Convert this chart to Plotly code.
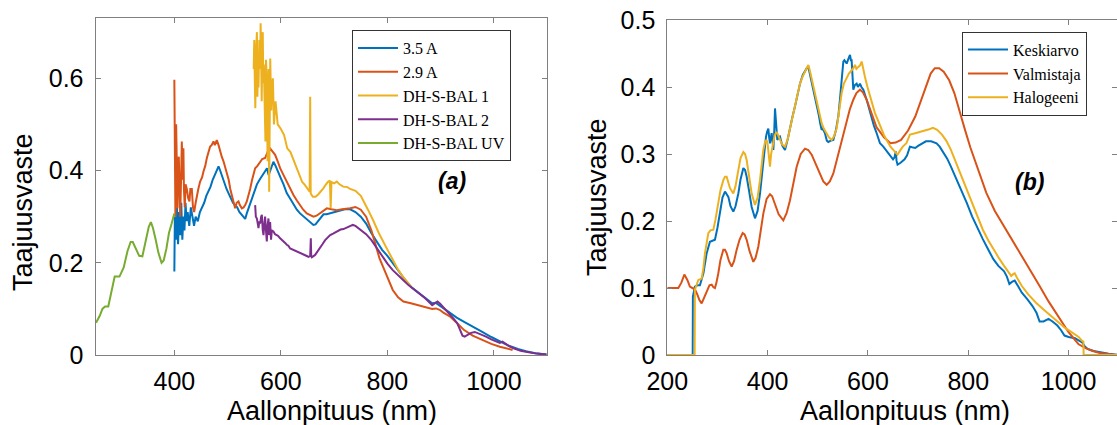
import plotly.graph_objects as go

# ---------------- Panel (a) data ----------------
a35_x = [400, 401, 403, 405, 407, 409, 411, 413, 415, 417, 419, 421, 423, 425, 428, 431, 434, 437, 440, 444, 448,
         452, 456, 460, 464, 468, 472, 476, 480, 483, 486, 490, 494, 498, 502, 506, 510, 514, 518, 522, 526, 530,
         533, 536, 540, 545, 550, 555, 560, 565, 570, 574, 577, 580, 583, 586, 590, 595, 600, 605, 611, 617, 624,
         630, 636, 643, 649, 655, 661, 665, 668, 672, 676, 680, 686, 693, 700, 710, 720, 730, 740, 750, 760, 770,
         780, 790, 800, 810, 820, 830, 844, 860, 877, 884, 891, 897, 905, 918, 930, 944, 960, 978, 995, 1011, 1028,
         1045, 1060, 1078, 1099]
a35_y = [0.181, 0.30, 0.25, 0.32, 0.24, 0.31, 0.26, 0.33, 0.25, 0.30, 0.27, 0.33, 0.29, 0.31, 0.28, 0.32, 0.30, 0.28,
         0.30, 0.29, 0.31, 0.32, 0.33, 0.345, 0.355, 0.365, 0.38, 0.39, 0.40, 0.409, 0.40, 0.385, 0.375, 0.36, 0.35,
         0.34, 0.33, 0.325, 0.32, 0.31, 0.305, 0.30, 0.295, 0.307, 0.32, 0.34, 0.355, 0.37, 0.38, 0.39, 0.40, 0.405,
         0.39, 0.40, 0.41, 0.419, 0.41, 0.395, 0.383, 0.37, 0.351, 0.34, 0.325, 0.315, 0.307, 0.30, 0.293, 0.288,
         0.282, 0.283, 0.287, 0.293, 0.298, 0.305, 0.305, 0.307, 0.31, 0.313, 0.316, 0.316, 0.31, 0.30, 0.285, 0.264,
         0.245, 0.228, 0.215, 0.199, 0.183, 0.168, 0.148, 0.133, 0.119, 0.112, 0.113, 0.108, 0.100, 0.090, 0.081,
         0.072, 0.061, 0.050, 0.039, 0.029, 0.020, 0.013, 0.008, 0.004, 0.001]

a29_x = [400, 401, 402, 403.4, 405, 406, 407, 408.4, 410, 411, 413, 414, 416, 417, 418, 419.6, 421, 423.4, 426, 428.4,
         430, 432.8, 435, 437.2, 440, 442.2, 445, 448.4, 452, 454.7, 458, 461, 464, 467.2, 470, 473.5, 476, 479.7, 483,
         486, 489, 492.3, 495, 498.5, 502, 505, 507.9, 511, 514.1, 517, 520.4, 523, 526.7, 530, 533, 536, 539, 542.3,
         546, 551.7, 556, 561, 565, 570.4, 575, 579.8, 585, 589.2, 594, 598.6, 605, 611.1, 617, 623.6, 630, 636.1, 642,
         648.7, 655, 661.2, 667, 673.7, 680, 686.2, 695, 705, 715, 730, 740, 750, 760, 770, 777, 785, 797, 805, 810, 820,
         830, 844, 860, 877, 884, 891, 898, 905, 918, 930, 944, 960, 978, 995, 1011, 1025, 1035]
a29_y = [0.597, 0.36, 0.30, 0.50, 0.34, 0.318, 0.40, 0.43, 0.35, 0.30, 0.40, 0.463, 0.38, 0.448, 0.36, 0.32, 0.37, 0.36,
         0.34, 0.333, 0.36, 0.36, 0.32, 0.31, 0.33, 0.347, 0.36, 0.376, 0.385, 0.398, 0.41, 0.427, 0.44, 0.452, 0.455,
         0.463, 0.455, 0.466, 0.455, 0.441, 0.43, 0.42, 0.41, 0.398, 0.38, 0.36, 0.347, 0.33, 0.318, 0.33, 0.333, 0.325,
         0.318, 0.32, 0.325, 0.333, 0.345, 0.36, 0.38, 0.405, 0.41, 0.419, 0.425, 0.427, 0.44, 0.448, 0.44, 0.434, 0.42,
         0.405, 0.39, 0.376, 0.36, 0.347, 0.335, 0.325, 0.315, 0.307, 0.303, 0.300, 0.302, 0.307, 0.313, 0.318, 0.316,
         0.314, 0.316, 0.318, 0.321, 0.315, 0.30, 0.27, 0.242, 0.21, 0.177, 0.155, 0.141, 0.125, 0.116, 0.112, 0.107,
         0.101, 0.100, 0.101, 0.098, 0.092, 0.083, 0.070, 0.054, 0.042, 0.032, 0.024, 0.018, 0.013, 0.011]

ad1_x = [549, 550, 551, 552, 553.5, 555, 556, 557, 558, 559.5, 561, 562, 563, 564, 565, 566, 567, 568, 570, 571, 572,
         573.5, 575, 576, 577, 578, 579, 580, 582, 583, 585, 587, 590, 592, 594, 597, 600, 606, 612, 618, 625, 630, 634,
         640, 645, 650, 654, 655, 656, 660, 665, 670, 675, 680, 684, 688, 692, 693.5, 695, 700, 705, 710, 717, 725, 730,
         740, 750, 757, 764, 774, 784, 797, 810, 820, 830, 844]
ad1_y = [0.62, 0.683, 0.60, 0.535, 0.66, 0.70, 0.56, 0.65, 0.58, 0.683, 0.62, 0.719, 0.64, 0.55, 0.65, 0.70, 0.59, 0.63,
         0.52, 0.463, 0.64, 0.60, 0.42, 0.55, 0.62, 0.354, 0.50, 0.643, 0.53, 0.58, 0.60, 0.50, 0.55, 0.52, 0.50, 0.495,
         0.49, 0.477, 0.448, 0.44, 0.419, 0.405, 0.39, 0.375, 0.369, 0.36, 0.354, 0.56, 0.35, 0.343, 0.343, 0.348, 0.354,
         0.362, 0.369, 0.375, 0.378, 0.318, 0.375, 0.372, 0.376, 0.37, 0.365, 0.364, 0.36, 0.356, 0.345, 0.33, 0.314,
         0.29, 0.264, 0.235, 0.206, 0.185, 0.168, 0.149]

ad2_x = [551.7, 553, 555, 556.5, 558, 559.5, 561, 563, 564.3, 566, 567.4, 569, 570.4, 572, 573.6, 575, 576.7, 578, 579.8,
         581.5, 583, 586, 589, 592.3, 595, 598.6, 602, 604.9, 608, 611.1, 614, 617.4, 623, 629.9, 636, 642.4, 647, 651.8,
         655, 656.2, 657, 658, 664.3, 669, 673.7, 678, 683.1, 688, 692.5, 698, 705, 712, 717.5, 724, 730, 735, 740, 750,
         760, 770, 780, 790, 800, 810, 820, 830, 840, 851, 861, 871, 884, 889, 894, 899, 904, 911, 918, 925, 931, 937,
         941, 945, 950, 957, 964, 975, 985, 995, 1005, 1011, 1016, 1022, 1030, 1038, 1050, 1065, 1080, 1099]
ad2_y = [0.325, 0.30, 0.296, 0.28, 0.275, 0.29, 0.285, 0.30, 0.304, 0.27, 0.26, 0.285, 0.30, 0.27, 0.246, 0.28, 0.296,
         0.26, 0.288, 0.25, 0.27, 0.268, 0.262, 0.26, 0.258, 0.253, 0.25, 0.246, 0.243, 0.239, 0.237, 0.231, 0.228,
         0.224, 0.221, 0.217, 0.216, 0.213, 0.215, 0.253, 0.214, 0.212, 0.217, 0.224, 0.231, 0.24, 0.249, 0.255, 0.26,
         0.263, 0.268, 0.272, 0.273, 0.276, 0.278, 0.282, 0.28, 0.271, 0.262, 0.249, 0.232, 0.213, 0.198, 0.184, 0.172,
         0.162, 0.151, 0.141, 0.132, 0.123, 0.108, 0.112, 0.116, 0.111, 0.105, 0.096, 0.087, 0.078, 0.069, 0.055,
         0.042, 0.040, 0.044, 0.048, 0.050, 0.045, 0.040, 0.034, 0.028, 0.026, 0.029, 0.024, 0.018, 0.014, 0.009,
         0.006, 0.003, 0.001]

auv_x = [253, 260, 265, 270, 276, 282, 288, 297, 305, 312, 318, 322, 328, 334, 340, 346, 352, 356, 360, 365, 370, 376,
         380, 385, 390, 395, 400]
auv_y = [0.070, 0.085, 0.100, 0.105, 0.105, 0.135, 0.170, 0.170, 0.190, 0.225, 0.245, 0.245, 0.230, 0.215, 0.214,
         0.250, 0.278, 0.288, 0.275, 0.250, 0.222, 0.200, 0.205, 0.230, 0.265, 0.285, 0.307]

# ---------------- Panel (b) data ----------------
bval_x = [200, 210, 222, 228, 234, 240, 245, 250, 255, 260, 264, 268.5, 273, 278.5, 284, 288.5, 292, 295, 298, 301.7,
          306, 311.7, 315, 318.3, 323, 328.3, 333, 338.3, 344, 350.2, 354, 358.2, 364, 371.5, 376, 381.5, 386, 391.4,
          398, 404.7, 409, 414.7, 422, 431.3, 438, 444.6, 451, 457.9, 466, 474.5, 481, 487.8, 496, 504.4, 511, 517.7,
          524, 531, 537, 544.3, 551, 557.6, 564, 570.8, 577, 584.1, 590, 597.4, 604, 610.7, 617, 624, 632, 644.8, 655,
          666, 680, 694.3, 705, 715.6, 725, 733.3, 742, 751, 762, 772.2, 783, 793.5, 804, 814.7, 825, 836, 853, 871.4,
          890, 906.8, 925, 942.2, 960, 977.6, 990, 1000, 1010, 1020, 1035, 1048, 1062, 1077, 1097]
bval_y = [0.100, 0.100, 0.100, 0.108, 0.120, 0.112, 0.102, 0.100, 0.098, 0.090, 0.082, 0.077, 0.085, 0.097, 0.104,
          0.105, 0.101, 0.100, 0.108, 0.122, 0.142, 0.157, 0.157, 0.152, 0.140, 0.132, 0.140, 0.157, 0.172, 0.182,
          0.180, 0.172, 0.155, 0.139, 0.145, 0.162, 0.185, 0.211, 0.233, 0.240, 0.237, 0.226, 0.210, 0.201, 0.212,
          0.231, 0.255, 0.281, 0.300, 0.308, 0.306, 0.299, 0.285, 0.271, 0.259, 0.254, 0.259, 0.271, 0.289, 0.311,
          0.332, 0.351, 0.367, 0.381, 0.391, 0.396, 0.392, 0.381, 0.367, 0.351, 0.340, 0.333, 0.325, 0.316, 0.317,
          0.321, 0.335, 0.356, 0.378, 0.401, 0.420, 0.428, 0.428, 0.423, 0.410, 0.391, 0.365, 0.336, 0.310, 0.287,
          0.265, 0.242, 0.215, 0.192, 0.170, 0.148, 0.125, 0.103, 0.080, 0.059, 0.044, 0.034, 0.025, 0.016, 0.010,
          0.006, 0.003, 0.0015, 0.0]

bkes_x = [200, 250.6, 251, 255, 260, 265, 272, 278.5, 285, 290, 295, 300, 305, 310, 315, 321.7, 326, 331.6, 336, 341.6,
          346, 351.6, 355, 358.2, 363, 368.2, 374.8, 380, 384.8, 388, 391.4, 394, 396.8, 399, 401.4, 403, 404.7, 406,
          408, 410, 411.4, 413, 414.7, 416, 417.5, 419.3, 422, 424.6, 429, 434.6, 440, 444.6, 450, 454.5, 460, 464.5,
          470, 474.5, 478, 481.1, 484, 487.8, 492, 497.7, 502, 505, 507.7, 510, 514.3, 518, 521, 526, 531, 536, 540.9,
          544, 547.6, 550.9, 553, 557.6, 561, 564.2, 566, 567.5, 569, 570.8, 574, 577.5, 580, 584.1, 587, 590.8, 597.4,
          602, 607.4, 612, 617.4, 624, 630.6, 637, 644.8, 650, 653, 655.4, 657, 659, 665, 673, 678, 683.7, 688, 694.3,
          700, 708, 715.6, 726, 736.8, 743, 751, 758, 765, 775, 786.4, 797, 807.6, 818, 829, 840, 850, 860, 871.4, 877,
          882, 887, 892.6, 900, 906.8, 918, 928, 936, 942.2, 950, 960, 968, 977.6, 985, 991.8, 1000, 1013, 1020, 1027,
          1032, 1038, 1050, 1062.6, 1080, 1097]
bkes_y = [0, 0, 0.087, 0.102, 0.104, 0.104, 0.122, 0.152, 0.169, 0.171, 0.172, 0.19, 0.211, 0.235, 0.244, 0.236, 0.222,
          0.214, 0.222, 0.241, 0.262, 0.279, 0.276, 0.266, 0.245, 0.221, 0.204, 0.215, 0.241, 0.262, 0.286, 0.31,
          0.326, 0.333, 0.338, 0.325, 0.316, 0.322, 0.331, 0.318, 0.306, 0.33, 0.368, 0.355, 0.33, 0.321, 0.325,
          0.326, 0.313, 0.306, 0.322, 0.341, 0.357, 0.371, 0.39, 0.405, 0.418, 0.425, 0.428, 0.43, 0.42, 0.405,
          0.395, 0.376, 0.358, 0.345, 0.336, 0.338, 0.331, 0.320, 0.318, 0.320, 0.321, 0.335, 0.356, 0.38, 0.405,
          0.438, 0.440, 0.435, 0.442, 0.448, 0.440, 0.44, 0.42, 0.396, 0.403, 0.405, 0.40, 0.405, 0.40, 0.396, 0.381,
          0.368, 0.356, 0.342, 0.331, 0.316, 0.311, 0.305, 0.297, 0.292, 0.295, 0.304, 0.29, 0.284, 0.287, 0.292,
          0.298, 0.311, 0.310, 0.309, 0.312, 0.316, 0.319, 0.319, 0.316, 0.311, 0.302, 0.293, 0.282, 0.265, 0.247,
          0.227, 0.207, 0.190, 0.173, 0.157, 0.143, 0.133, 0.125, 0.117, 0.106, 0.109, 0.111, 0.102, 0.093, 0.083,
          0.073, 0.063, 0.050, 0.050, 0.054, 0.050, 0.044, 0.037, 0.029, 0.027, 0.025, 0.022, 0.019, 0.013, 0.009,
          0.006, 0.004, 0.002, 0.0005]

bhal_x = [200, 254.5, 255, 261.8, 268.5, 272, 275.1, 281.8, 286, 291.8, 296, 301.7, 306, 311.7, 315, 318.3, 325, 331.6,
          336, 341.6, 346, 351.6, 355, 358.2, 363, 368.2, 374.8, 380, 384.8, 388, 391.4, 395, 398, 400, 402, 404.7, 407,
          411.4, 414, 418, 421, 424.6, 429, 434.6, 440, 444.6, 450, 454.5, 460, 464.5, 470, 474.5, 478, 481.1, 484,
          487.8, 492, 497.7, 502, 507.7, 512, 517.7, 522, 527.6, 532, 537.6, 542, 547.6, 552, 557.6, 562, 567.5, 571,
          574.2, 577, 580.8, 584, 587.5, 590, 594.1, 599, 604.1, 609, 614, 619, 624, 632, 644.8, 652, 659, 664, 669.5,
          676.6, 683.7, 694.3, 705, 715.6, 722, 729.7, 738, 747.5, 756, 765, 775, 786.4, 797, 807.6, 818, 829, 840, 850,
          860, 871.4, 880, 885.6, 890, 892.6, 898, 906.8, 920, 935, 950, 963.5, 978, 991.8, 1000, 1013, 1020, 1027,
          1029.5, 1030, 1097]
bhal_y = [0, 0, 0.097, 0.112, 0.114, 0.130, 0.152, 0.182, 0.186, 0.187, 0.202, 0.226, 0.246, 0.261, 0.266, 0.266,
          0.249, 0.241, 0.252, 0.276, 0.294, 0.303, 0.300, 0.291, 0.265, 0.241, 0.224, 0.235, 0.261, 0.285, 0.306,
          0.318, 0.321, 0.315, 0.295, 0.281, 0.30, 0.316, 0.328, 0.333, 0.328, 0.321, 0.314, 0.311, 0.322, 0.338,
          0.355, 0.371, 0.39, 0.405, 0.416, 0.423, 0.43, 0.433, 0.425, 0.413, 0.400, 0.381, 0.365, 0.346, 0.338,
          0.331, 0.325, 0.321, 0.326, 0.338, 0.360, 0.391, 0.405, 0.415, 0.42, 0.425, 0.428, 0.433, 0.427, 0.43,
          0.432, 0.438, 0.428, 0.415, 0.40, 0.386, 0.373, 0.361, 0.352, 0.343, 0.328, 0.311, 0.304, 0.299, 0.305,
          0.311, 0.316, 0.329, 0.331, 0.333, 0.336, 0.337, 0.339, 0.336, 0.329, 0.320, 0.307, 0.288, 0.267, 0.247,
          0.227, 0.207, 0.187, 0.171, 0.158, 0.146, 0.133, 0.123, 0.118, 0.121, 0.122, 0.114, 0.103, 0.090, 0.078,
          0.068, 0.059, 0.050, 0.041, 0.037, 0.031, 0.027, 0.021, 0.020, 0, 0]

a_names = ["3.5 A", "2.9 A", "DH-S-BAL 1", "DH-S-BAL 2", "DH-S-BAL UV"]
b_names = ["Keskiarvo", "Valmistaja", "Halogeeni"]
c_blue, c_orange, c_yellow, c_purple, c_green = "#0072BD", "#D95319", "#EDB120", "#7E2F8E", "#77AC30"

a_x_ticks = [400, 600, 800, 1000]
a_y_ticks = [0, 0.2, 0.4, 0.6]
a_y_labels = ["0", "0.2", "0.4", "0.6"]
b_x_ticks = [200, 400, 600, 800, 1000]
b_y_ticks = [0, 0.1, 0.2, 0.3, 0.4, 0.5]
b_y_labels = ["0", "0.1", "0.2", "0.3", "0.4", "0.5"]

W, H = 1117, 425
LW = 2

fig = go.Figure()
for xs, ys, nm, col in [(a35_x, a35_y, a_names[0], c_blue), (a29_x, a29_y, a_names[1], c_orange),
                        (ad1_x, ad1_y, a_names[2], c_yellow), (ad2_x, ad2_y, a_names[3], c_purple),
                        (auv_x, auv_y, a_names[4], c_green)]:
    fig.add_trace(go.Scatter(x=xs, y=ys, name=nm, mode="lines", line=dict(color=col, width=LW),
                             xaxis="x", yaxis="y", legend="legend"))
for xs, ys, nm, col in [(bkes_x, bkes_y, b_names[0], c_blue), (bval_x, bval_y, b_names[1], c_orange),
                        (bhal_x, bhal_y, b_names[2], c_yellow)]:
    fig.add_trace(go.Scatter(x=xs, y=ys, name=nm, mode="lines", line=dict(color=col, width=LW),
                             xaxis="x2", yaxis="y2", legend="legend2"))

def px_x(p):
    return p / W

def px_y(p):
    return (H - p) / H

tick_font = dict(family="Liberation Sans, Arial, sans-serif", size=25, color="#000000")
title_font = dict(family="Liberation Sans, Arial, sans-serif", size=27, color="#000000")
legend_font = dict(family="Liberation Serif, Times New Roman, serif", size=16, color="#000000")

axis_common = dict(showline=True, linecolor="#808080", linewidth=1, mirror="ticks", ticks="inside",
                   ticklen=5, tickcolor="#808080", showgrid=False, zeroline=False, automargin=False,
                   tickfont=tick_font)

fig.update_layout(
    width=W, height=H, margin=dict(l=0, r=0, t=0, b=0, autoexpand=False),
    paper_bgcolor="white", plot_bgcolor="white", showlegend=True,
    xaxis=dict(domain=[px_x(95.5), px_x(546.7)], range=[252, 1099], tickvals=a_x_ticks,
               anchor="y", ticklabelstandoff=4, **axis_common),
    yaxis=dict(domain=[px_y(355), px_y(18.3)], range=[0, 0.73], tickvals=a_y_ticks, ticktext=a_y_labels,
               anchor="x", ticklabelstandoff=6, **axis_common),
    xaxis2=dict(domain=[px_x(667.3), 1.0], range=[200, 1096.5], tickvals=b_x_ticks,
                anchor="y2", ticklabelstandoff=4, **axis_common),
    yaxis2=dict(domain=[px_y(355), px_y(20)], range=[0, 0.5], tickvals=b_y_ticks, ticktext=b_y_labels,
                anchor="x2", ticklabelstandoff=6, **axis_common),
    legend=dict(x=px_x(352), y=px_y(30), xanchor="left", yanchor="top", bgcolor="white",
                bordercolor="#333333", borderwidth=1, font=legend_font, tracegroupgap=0, itemwidth=40),
    legend2=dict(x=px_x(962), y=px_y(31.7), xanchor="left", yanchor="top", bgcolor="white",
                 bordercolor="#333333", borderwidth=1, font=legend_font, tracegroupgap=0, itemwidth=40),
)

annos = [
    dict(text="Aallonpituus (nm)", x=px_x(332), y=px_y(411), xref="paper", yref="paper",
         xanchor="center", yanchor="middle", showarrow=False, font=title_font),
    dict(text="Aallonpituus (nm)", x=px_x(905), y=px_y(411), xref="paper", yref="paper",
         xanchor="center", yanchor="middle", showarrow=False, font=title_font),
    dict(text="Taajuusvaste", x=px_x(23), y=px_y(212), xref="paper", yref="paper", textangle=-90,
         xanchor="center", yanchor="middle", showarrow=False, font=title_font),
    dict(text="Taajuusvaste", x=px_x(597), y=px_y(197), xref="paper", yref="paper", textangle=-90,
         xanchor="center", yanchor="middle", showarrow=False, font=title_font),
    dict(text="<b><i>(a)</i></b>", x=px_x(452), y=px_y(181), xref="paper", yref="paper",
         xanchor="center", yanchor="middle", showarrow=False,
         font=dict(family="Liberation Sans, Arial, sans-serif", size=23, color="#000000")),
    dict(text="<b><i>(b)</i></b>", x=px_x(1029), y=px_y(182), xref="paper", yref="paper",
         xanchor="center", yanchor="middle", showarrow=False,
         font=dict(family="Liberation Sans, Arial, sans-serif", size=23, color="#000000")),
]
fig.update_layout(annotations=annos)

fig.write_html("out.html", config={"displayModeBar": False},
               post_script="document.body.style.margin='0px';document.body.style.overflow='hidden';")
